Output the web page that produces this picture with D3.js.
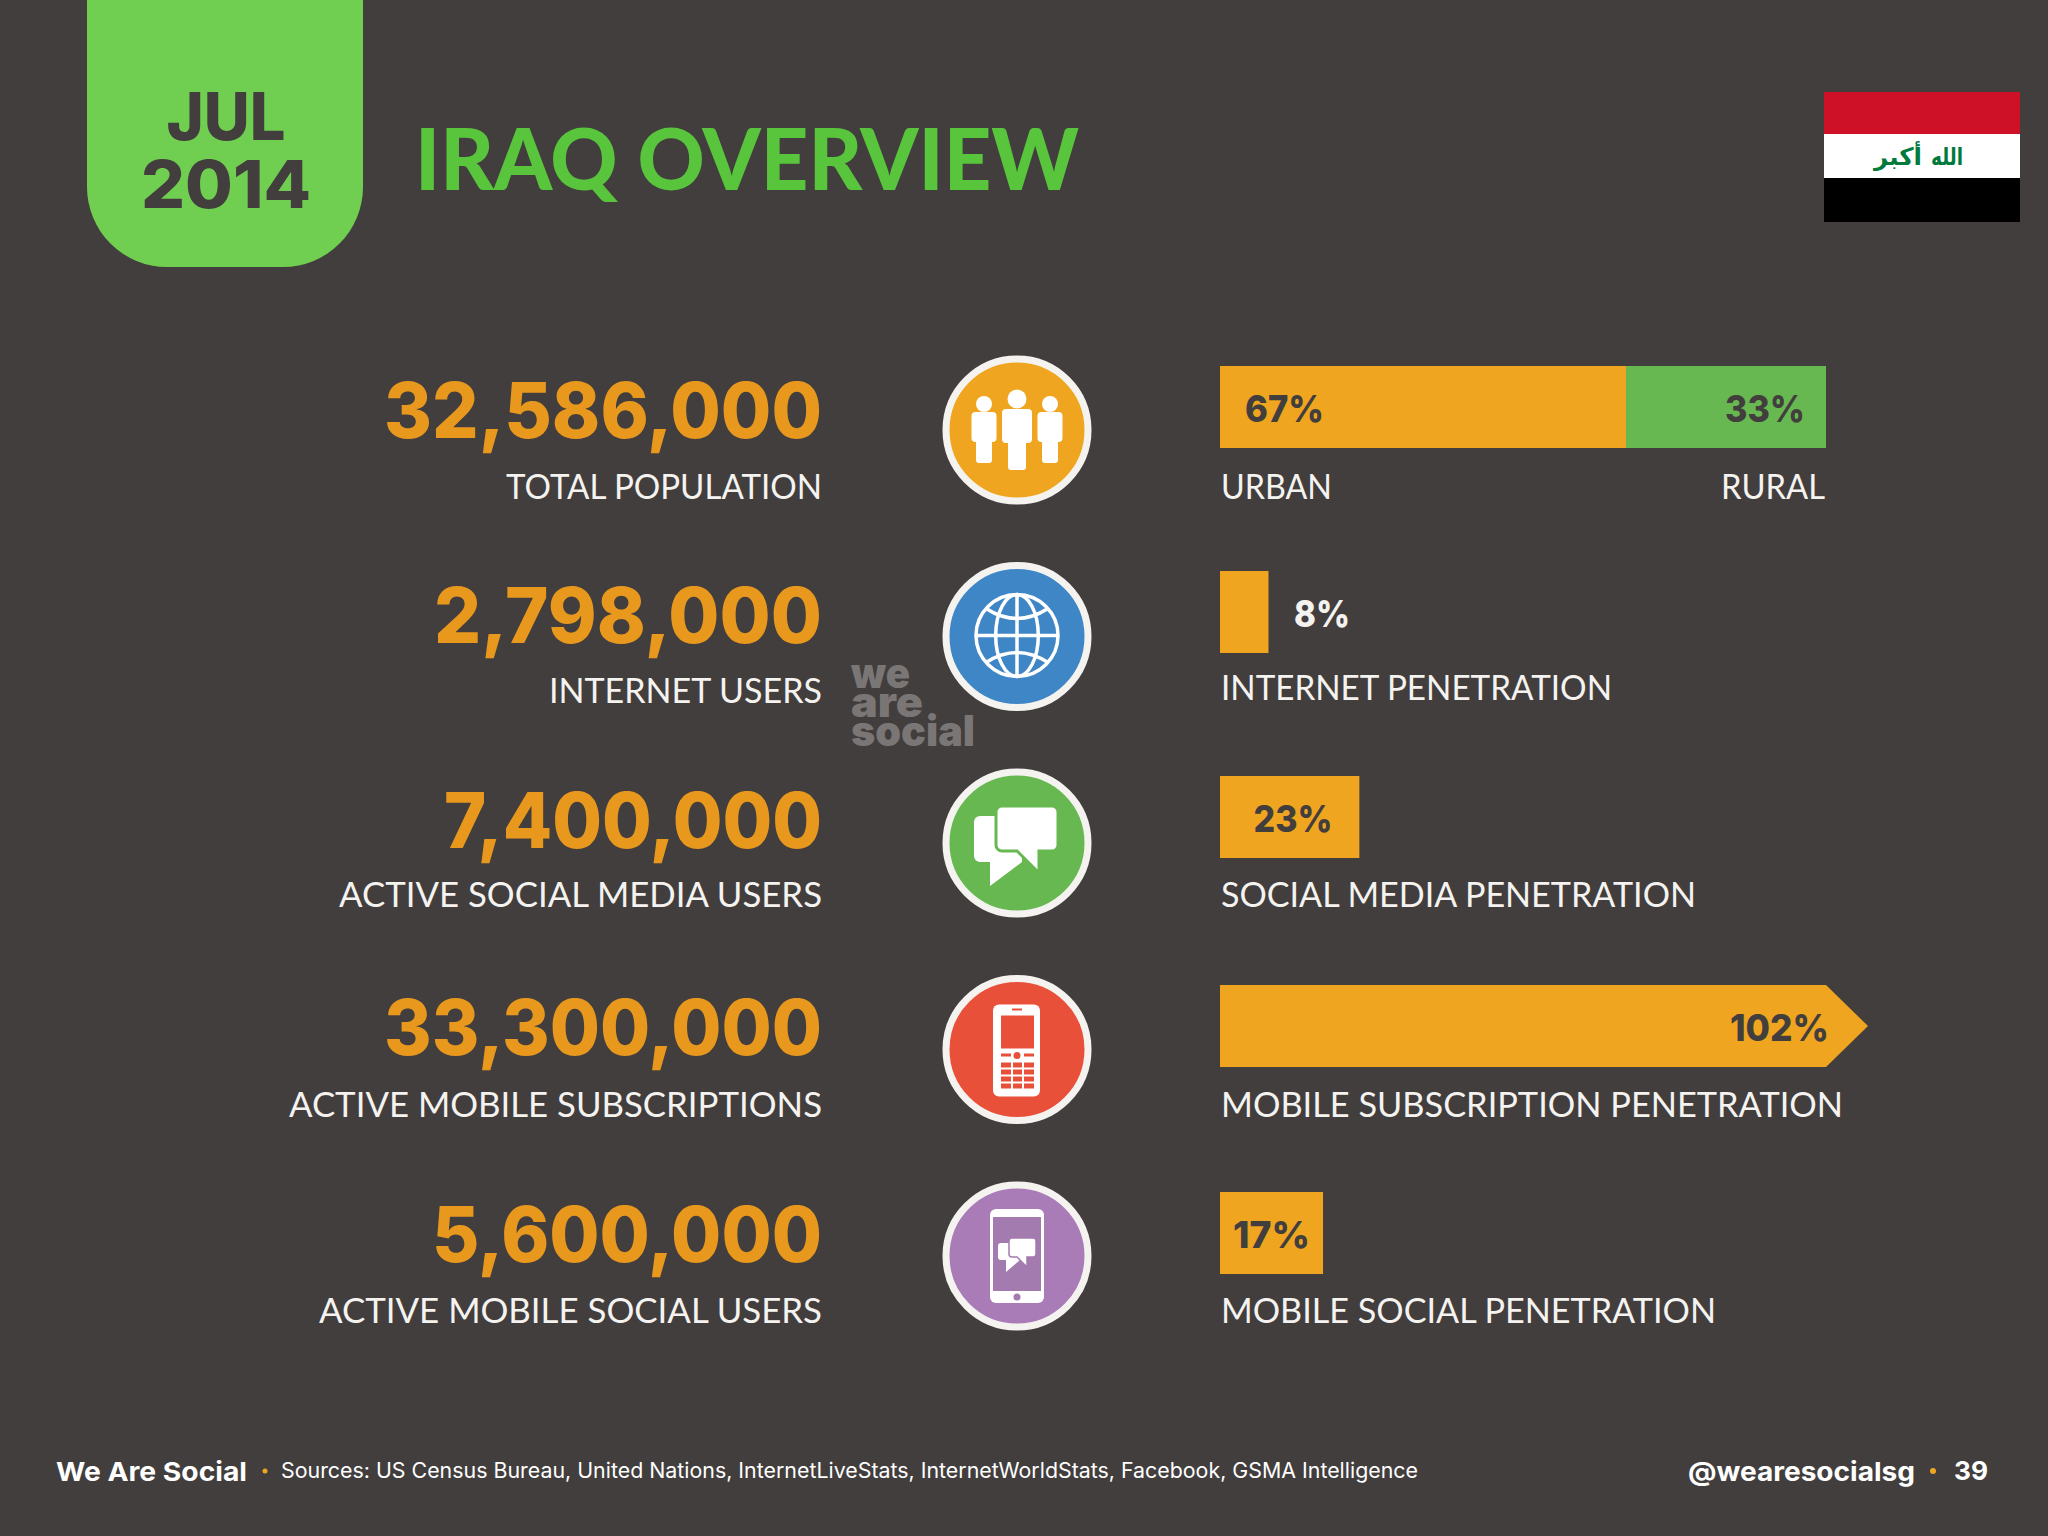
<!DOCTYPE html>
<html>
<head>
<meta charset="utf-8">
<title>Iraq Overview</title>
<script src="https://cdn.jsdelivr.net/npm/d3@7/dist/d3.min.js"></script>
<style>
  html, body { margin: 0; padding: 0; background: #423e3d; }
  svg { display: block; }
  text { font-family: Lato, "Noto Sans", sans-serif; }
  .heavy { font-family: Inter, Lato, sans-serif; }
</style>
</head>
<body>
<svg id="chart"></svg>
<script>
// Values
const rowKeys = ['population', 'internet', 'social', 'mobile', 'mobileSocial'];
const totals = [32586000, 2798000, 7400000, 33300000, 5600000];
const totalLabels = ['TOTAL POPULATION', 'INTERNET USERS', 'ACTIVE SOCIAL MEDIA USERS', 'ACTIVE MOBILE SUBSCRIPTIONS', 'ACTIVE MOBILE SOCIAL USERS'];
const penetration = [67, 8, 23, 102, 17];
const penetrationLabels = ['URBAN', 'INTERNET PENETRATION', 'SOCIAL MEDIA PENETRATION', 'MOBILE SUBSCRIPTION PENETRATION', 'MOBILE SOCIAL PENETRATION'];
const rural = 33;
const ruralLabel = 'RURAL';
const sources = 'Sources: US Census Bureau, United Nations, InternetLiveStats, InternetWorldStats, Facebook, GSMA Intelligence';

// Layout per row (the slide's rows aren't perfectly even)
const numberWidths = [438, 388, 378, 438, 390];
const numberDy = [8, 6.5, 5, 5.5, 6];
const totalLabelWidths = [316, 273, 483, 533, 503];
const totalLabelDy = [69, 66.5, 64, 67.5, 66.5];
const penLabelWidths = [111, 391, 475, 622, 495];
const penLabelDy = [69, 63.5, 64, 67.5, 66.5];
const barDy = [-64, -65.5, -67, -64.5, -64];

const width = 2048, height = 1536;
const bg = '#423e3d', orange = '#efa51f', numberOrange = '#e9981e', green = '#68b851', white = '#f5f3f0';
const iconColors = ['#efa51f', '#3f86c6', '#68b851', '#e9503a', '#a97cb8'];

const svg = d3.select('#chart').attr('width', width).attr('height', height);
svg.append('rect').attr('width', width).attr('height', height).attr('fill', bg);

// Scales: rows top to bottom, percentages left to right
const y = d3.scalePoint().domain(rowKeys).range([430, 1256]);
const x = d3.scaleLinear().domain([0, 100]).range([1220, 1826]);
const barH = 82;

// Text helper, fit squeezes the string to the width measured on the slide
function label(g, str, px, py, size, weight, fill, anchor, fit) {
  const t = g.append('text').attr('x', px).attr('y', py).attr('font-size', size)
    .attr('font-weight', weight).attr('fill', fill).attr('text-anchor', anchor || 'start').text(str);
  if (fit) t.attr('textLength', fit).attr('lengthAdjust', 'spacingAndGlyphs');
  return t;
}

// Header
const p = d3.path();
p.moveTo(87, 0); p.lineTo(87, 187); p.arcTo(87, 267, 167, 267, 80);
p.lineTo(283, 267); p.arcTo(363, 267, 363, 187, 80); p.lineTo(363, 0); p.closePath();
svg.append('path').attr('d', p.toString()).attr('fill', '#70cf50');
label(svg, 'JUL', 226, 140, 66, 800, bg, 'middle', 119).attr('class', 'heavy');
label(svg, '2014', 226, 208, 66, 800, bg, 'middle', 170).attr('class', 'heavy');
label(svg, 'IRAQ OVERVIEW', 415, 190, 85, 900, '#58c53c', 'start', 664);

// Flag
const flag = svg.append('g');
flag.append('rect').attr('x', 1824).attr('y', 92).attr('width', 196).attr('height', 42).attr('fill', '#ce1126');
flag.append('rect').attr('x', 1824).attr('y', 134).attr('width', 196).attr('height', 44).attr('fill', '#ffffff');
flag.append('rect').attr('x', 1824).attr('y', 178).attr('width', 196).attr('height', 44).attr('fill', '#000000');
[['الله', 1963, 32], ['أكبر', 1922, 48]].forEach(([w, ex, wid]) => {
  flag.append('text').attr('x', ex).attr('y', 165).attr('font-size', 24).attr('font-weight', 700)
    .attr('text-anchor', 'end').attr('fill', '#007a3d').style('font-family', '"DejaVu Sans"')
    .attr('textLength', wid).attr('lengthAdjust', 'spacingAndGlyphs').text(w);
});

// Left column numbers and labels
rowKeys.forEach((k, i) => {
  label(svg, d3.format(',')(totals[i]), 822, y(k) + numberDy[i], 77, 800, numberOrange, 'end', numberWidths[i]).attr('class', 'heavy');
  label(svg, totalLabels[i], 822, y(k) + totalLabelDy[i], 35.5, 400, white, 'end', totalLabelWidths[i]);
  label(svg, penetrationLabels[i], 1221, y(k) + penLabelDy[i], 35.5, 400, white, 'start', penLabelWidths[i]);
});
label(svg, ruralLabel, 1825, y('population') + penLabelDy[0], 35.5, 400, white, 'end', 104);

// Icons
const icons = {
  population(g) {
    const person = (dx, headY, headR, top, bottom, hw, lw, hip) => {
      g.append('ellipse').attr('cx', dx).attr('cy', headY).attr('rx', headR).attr('ry', headR).attr('fill', '#fff');
      g.append('rect').attr('x', dx - hw).attr('y', top).attr('width', hw * 2).attr('height', hip - top).attr('rx', 4).attr('fill', '#fff');
      g.append('rect').attr('x', dx - lw).attr('y', top + 5).attr('width', lw * 2).attr('height', bottom - top - 5).attr('rx', 3).attr('fill', '#fff');
    };
    person(-33, -26, 8, -18, 33, 12.5, 8, 12);
    person(33, -26, 8, -18, 33, 12.5, 8, 12);
    person(0, -31, 9.5, -21, 40, 15, 9, 13);
  },
  internet(g) {
    const s = g.append('g').attr('fill', 'none').attr('stroke', '#fff').attr('stroke-width', 3.5);
    const r = 41;
    s.append('circle').attr('cy', -1).attr('r', r);
    s.append('line').attr('x1', -r).attr('x2', r).attr('y1', -1).attr('y2', -1);
    s.append('line').attr('y1', -1 - r).attr('y2', r - 1);
    s.append('ellipse').attr('cy', -1).attr('rx', r * 0.52).attr('ry', r);
    s.append('path').attr('d', 'M-31,-28 Q0,-8 31,-28');
    s.append('path').attr('d', 'M-31,26 Q0,6 31,26');
  },
  social(g) {
    g.append('path').attr('fill', '#fff')
      .attr('d', 'M-37,-27 a6,6 0 0 0 -6,6 v34 a6,6 0 0 0 6,6 h10 v24 l32,-24 V-27 Z');
    g.append('path').attr('fill', '#fff').attr('stroke', iconColors[2]).attr('stroke-width', 3)
      .attr('d', 'M-15,-37 h50 a6,6 0 0 1 6,6 v33 a6,6 0 0 1 -6,6 h-13 v22 l-22,-22 h-15 a6,6 0 0 1 -6,-6 v-33 a6,6 0 0 1 6,-6 z');
  },
  mobile(g) {
    const col = iconColors[3];
    g.append('rect').attr('x', -24).attr('y', -45).attr('width', 47).attr('height', 92).attr('rx', 6).attr('fill', '#fff');
    g.append('rect').attr('x', -16).attr('y', -34).attr('width', 33).attr('height', 33).attr('fill', col);
    g.append('rect').attr('x', -5).attr('y', -41).attr('width', 10).attr('height', 2).attr('fill', col);
    g.append('rect').attr('x', -16).attr('y', 4).attr('width', 10).attr('height', 3).attr('fill', col);
    g.append('rect').attr('x', 7).attr('y', 4).attr('width', 10).attr('height', 3).attr('fill', col);
    g.append('circle').attr('cx', 0).attr('cy', 6).attr('r', 3.5).attr('fill', col);
    [-16, -4, 7].forEach(kx => [13, 20, 27, 34].forEach(ky => {
      g.append('rect').attr('x', kx).attr('y', ky).attr('width', kx === -4 ? 9 : 10).attr('height', 5).attr('fill', col);
    }));
  },
  mobileSocial(g) {
    const col = '#a47bae';
    g.append('rect').attr('x', -27).attr('y', -47).attr('width', 54).attr('height', 94).attr('rx', 6).attr('fill', '#fff');
    g.append('rect').attr('x', -24).attr('y', -39).attr('width', 48).attr('height', 74).attr('fill', col);
    g.append('circle').attr('cy', 41).attr('r', 3.5).attr('fill', col);
    g.append('path').attr('fill', '#fff').attr('d', 'M-16,-13 a3,3 0 0 0 -3,3 v11 a3,3 0 0 0 3,3 h5 v12 l14,-12 V-13 Z');
    g.append('path').attr('fill', '#fff').attr('stroke', col).attr('stroke-width', 1.5)
      .attr('d', 'M-5,-18 h21 a3,3 0 0 1 3,3 v13 a3,3 0 0 1 -3,3 h-6 v10 l-10,-10 h-5 a3,3 0 0 1 -3,-3 v-13 a3,3 0 0 1 3,-3 z');
  }
};

rowKeys.forEach((k, i) => {
  const g = svg.append('g').attr('transform', `translate(1017,${y(k)})`);
  g.append('circle').attr('r', 71).attr('fill', iconColors[i]).attr('stroke', white).attr('stroke-width', 7);
  icons[k](g);
});

// Watermark
[['we', 59], ['are', 72], ['social', 124]].forEach(([w, wid], i) => {
  label(svg, w, 851, 688 + i * 29, 42, 900, '#7a7676', 'start', wid).attr('class', 'heavy');
});

// Penetration bars
rowKeys.forEach((k, i) => {
  const top = y(k) + barDy[i], v = penetration[i];
  if (v > 100) {
    // over 100% gets capped and turned into an arrow
    svg.append('path').attr('fill', orange)
      .attr('d', `M${x(0)},${top} H${x(100)} L${x(100) + 42},${top + barH / 2} L${x(100)},${top + barH} H${x(0)} Z`);
  } else {
    svg.append('rect').attr('x', x(0)).attr('y', top).attr('width', x(v) - x(0)).attr('height', barH).attr('fill', orange);
  }
});
svg.append('rect').attr('x', x(penetration[0])).attr('y', y('population') + barDy[0])
  .attr('width', x(penetration[0] + rural) - x(penetration[0])).attr('height', barH).attr('fill', green);

// Bar value labels
const pct = d => d + '%';
const lbl = (str, px, i, fill, anchor, fit) =>
  label(svg, str, px, y(rowKeys[i]) + barDy[i] + 56, 37, 800, fill, anchor, fit).attr('class', 'heavy');
lbl(pct(penetration[0]), 1245, 0, bg, 'start', 79);
lbl(pct(rural), 1805, 0, bg, 'end', 80);
lbl(pct(penetration[1]), 1294, 1, '#f5f3f0', 'start', 56);
lbl(pct(penetration[2]), 1293, 2, bg, 'middle', 79);
lbl(pct(penetration[3]), 1829, 3, bg, 'end', 99);
lbl(pct(penetration[4]), 1271.5, 4, bg, 'middle', 77);

// Footer
label(svg, 'We Are Social', 56, 1481, 26, 700, '#ffffff', 'start', 191).attr('class', 'heavy');
svg.append('circle').attr('cx', 265).attr('cy', 1471).attr('r', 2.5).attr('fill', orange);
label(svg, sources, 281, 1478, 21, 400, '#ffffff', 'start', 1137).attr('class', 'heavy');
label(svg, '@wearesocialsg', 1915, 1481, 26, 700, '#ffffff', 'end', 227).attr('class', 'heavy');
svg.append('circle').attr('cx', 1933).attr('cy', 1471).attr('r', 3).attr('fill', orange);
label(svg, '39', 1988, 1480, 26, 700, '#ffffff', 'end', 34).attr('class', 'heavy');
</script>
</body>
</html>
